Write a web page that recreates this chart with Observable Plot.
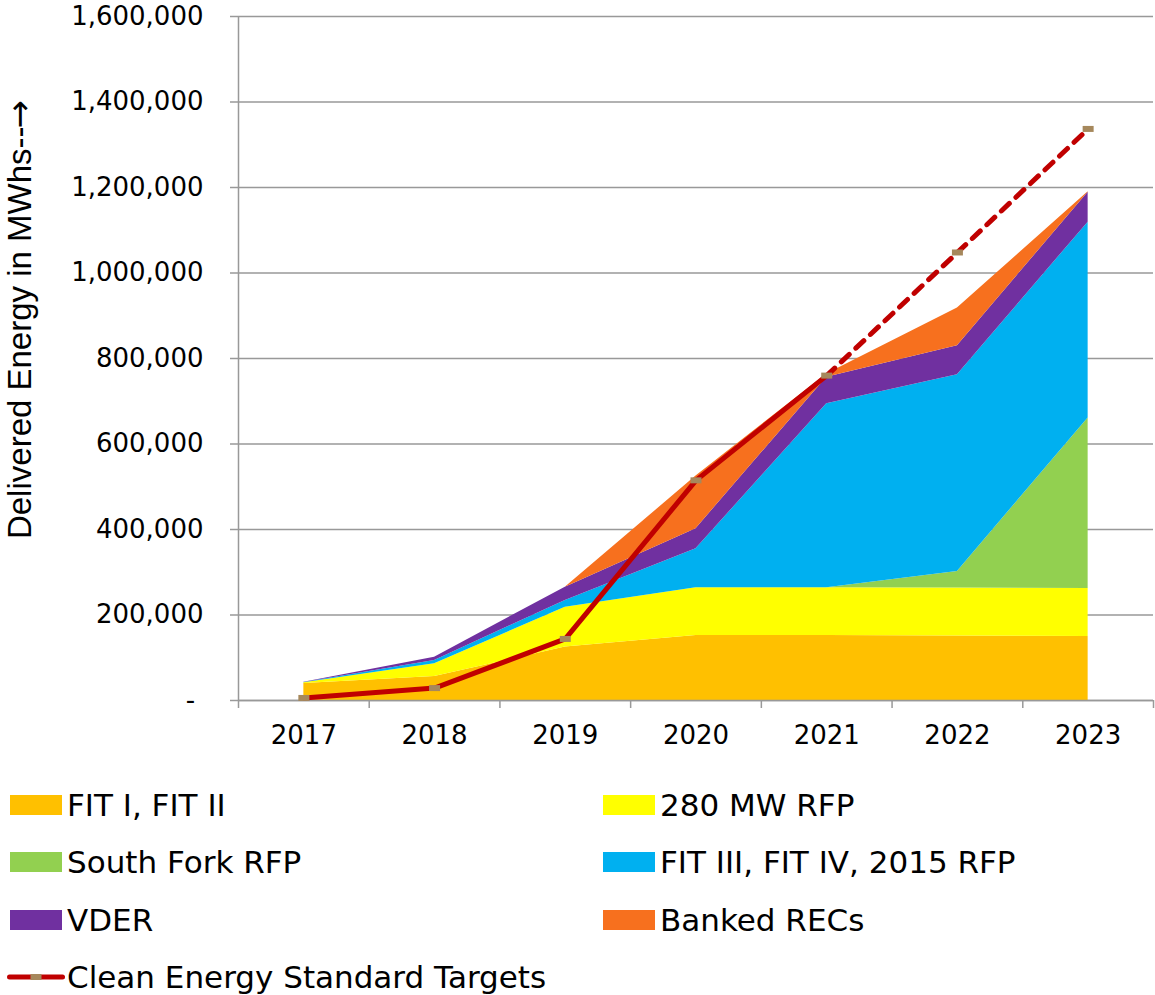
<!DOCTYPE html>
<html>
<head>
<meta charset="utf-8">
<script src="https://cdn.jsdelivr.net/npm/d3@7"></script>
<script src="https://cdn.jsdelivr.net/npm/@observablehq/plot@0.6"></script>
<style>
  html, body { margin: 0; padding: 0; background: #fff; }
  #chart { width: 1155px; height: 770px; }
  #legend { position: relative; width: 1155px; height: 225px; font-family: "DejaVu Sans", sans-serif; font-size: 31px; color: #000; }
  .item { position: absolute; height: 40px; display: flex; align-items: center; white-space: nowrap; }
  .sw { width: 52px; height: 20px; margin-right: 5px; flex: none; }
</style>
</head>
<body>
<div id="chart"></div>
<div id="legend"></div>
<script>
// ---- Data ----
const years = ["2017", "2018", "2019", "2020", "2021", "2022", "2023"];
const seriesNames = ["FIT I, FIT II", "280 MW RFP", "South Fork RFP", "FIT III, FIT IV, 2015 RFP", "VDER", "Banked RECs"];
const seriesColors = ["#FFC000", "#FFFF00", "#92D050", "#00B0F0", "#7030A0", "#F7701E"];
const fit12     = [40000, 56000, 125000, 152000, 152000, 151000, 150000];
const rfp280    = [1500, 30000, 93000, 112000, 112000, 112000, 112000];
const southFork = [0, 0, 0, 0, 0, 39000, 399000];
const fit34     = [700, 7800, 16000, 91000, 430000, 460000, 458000];
const vder      = [700, 7500, 31000, 47000, 62000, 68000, 70000];
const banked    = [0, 0, 0, 123000, 8000, 88000, 1000];
const targets   = [6000, 29000, 144000, 515000, 760000, 1048000, 1337000];
const targetName = "Clean Energy Standard Targets";
const yTicks = [0, 200000, 400000, 600000, 800000, 1000000, 1200000, 1400000, 1600000];
const yLabelText = "Delivered Energy in MWhs--";
const yLabelArrow = "\u2192";

// ---- Build tables ----
const seriesValues = [fit12, rfp280, southFork, fit34, vder, banked];
const stackData = [];
seriesNames.forEach((s, k) => years.forEach((yr, i) => stackData.push({series: s, year: yr, value: seriesValues[k][i]})));
const targetData = years.map((yr, i) => ({year: yr, value: targets[i]}));

const W = 1155, H = 770, mL = 238, mR = 2, mT = 16, mB = 70;
const step = (W - mL - mR) / years.length;
const markerColor = "#A6885C";
const rectSymbol = { draw(ctx) { ctx.rect(-5.5, -3, 11, 6); } };
const grid = "#999";

const chart = Plot.plot({
  width: W, height: H,
  marginLeft: mL, marginRight: mR, marginTop: mT, marginBottom: mB,
  style: { fontFamily: "DejaVu Sans, sans-serif", fontSize: "26px", color: "#000", background: "#fff", overflow: "visible" },
  x: { type: "point", domain: years, padding: 0.5, round: false, label: null },
  y: { domain: [0, 1600000], label: null },
  color: { domain: seriesNames, range: seriesColors },
  marks: [
    Plot.ruleY(yTicks, { stroke: grid, strokeWidth: 1.5 }),
    Plot.areaY(stackData, { x: "year", y: "value", z: "series", fill: "series" }),
    Plot.ruleY([0], { stroke: grid, strokeWidth: 1.5 }),
    Plot.ruleX([years[0]], { dx: -step / 2, y1: 0, y2: 1600000, stroke: grid, strokeWidth: 1.5 }),
    Plot.axisY(yTicks, {
      anchor: "left", tickSize: 8, tickPadding: 27, stroke: grid, strokeWidth: 1.5, fill: "#000",
      fontSize: 26, label: null,
      tickFormat: d => d === 0 ? "-\u00a0" : d3.format(",")(d)
    }),
    Plot.axisX(years, { tickSize: 8, dx: -step / 2, stroke: grid, strokeWidth: 1.5, tickFormat: () => "", label: null }),
    Plot.axisX([years[years.length - 1]], { tickSize: 8, dx: step / 2, stroke: grid, strokeWidth: 1.5, tickFormat: () => "", label: null }),
    Plot.axisX(years, { tickSize: 0, tickPadding: 25, fontSize: 26, fill: "#000", label: null }),
    Plot.line(targetData.slice(0, 5), { x: "year", y: "value", stroke: "#C00000", strokeWidth: 5, strokeLinecap: "round", strokeLinejoin: "round" }),
    Plot.line(targetData.slice(4), { x: "year", y: "value", stroke: "#C00000", strokeWidth: 5, strokeLinecap: "round", strokeLinejoin: "round", strokeDasharray: "11,9" }),
    Plot.dot(targetData, { x: "year", y: "value", symbol: rectSymbol, fill: markerColor, stroke: "none", r: 3 }),
    Plot.text([yLabelText + yLabelArrow], { frameAnchor: "left", rotate: -90, dx: -218, dy: -39, fontSize: 33, fontFamily: "Liberation Sans, Arial, sans-serif", fill: "#000", textAnchor: "middle", className: "ylabel" })
  ]
});
document.getElementById("chart").appendChild(chart);

// Give the arrow of the axis title a larger glyph (as in the reference)
d3.select(chart).selectAll("text").each(function() {
  if (this.textContent === yLabelText + yLabelArrow) {
    const t = d3.select(this);
    t.text(null);
    t.append("tspan").text(yLabelText);
    t.append("tspan").attr("font-family", "DejaVu Sans").attr("font-size", 34).attr("dx", -2).text(yLabelArrow);
  }
});

// ---- Legend ----
const legend = document.getElementById("legend");
const rowCenters = [804.5, 862, 919.5, 977];
const colLeft = [10, 603];
seriesNames.forEach((s, k) => {
  const row = Math.floor(k / 2), col = k % 2;
  const it = document.createElement("div");
  it.className = "item";
  it.style.left = colLeft[col] + "px";
  it.style.top = (rowCenters[row] - 770 - 20) + "px";
  const sw = document.createElement("span");
  sw.className = "sw";
  sw.style.background = seriesColors[k];
  const tx = document.createElement("span");
  tx.textContent = s;
  it.appendChild(sw); it.appendChild(tx);
  legend.appendChild(it);
});
{
  const it = document.createElement("div");
  it.className = "item";
  it.style.left = "7px";
  it.style.top = (rowCenters[3] - 770 - 20) + "px";
  const svgNS = "http://www.w3.org/2000/svg";
  const s = document.createElementNS(svgNS, "svg");
  s.setAttribute("width", "58"); s.setAttribute("height", "20");
  s.style.marginRight = "2px";
  const l = document.createElementNS(svgNS, "line");
  l.setAttribute("x1", "2.5"); l.setAttribute("x2", "55.5"); l.setAttribute("y1", "10"); l.setAttribute("y2", "10");
  l.setAttribute("stroke", "#C00000"); l.setAttribute("stroke-width", "5"); l.setAttribute("stroke-linecap", "round");
  const r = document.createElementNS(svgNS, "rect");
  r.setAttribute("x", "23.5"); r.setAttribute("y", "7"); r.setAttribute("width", "11"); r.setAttribute("height", "6");
  r.setAttribute("fill", markerColor);
  s.appendChild(l); s.appendChild(r);
  const tx = document.createElement("span");
  tx.textContent = targetName;
  it.appendChild(s); it.appendChild(tx);
  legend.appendChild(it);
}
</script>
</body>
</html>
